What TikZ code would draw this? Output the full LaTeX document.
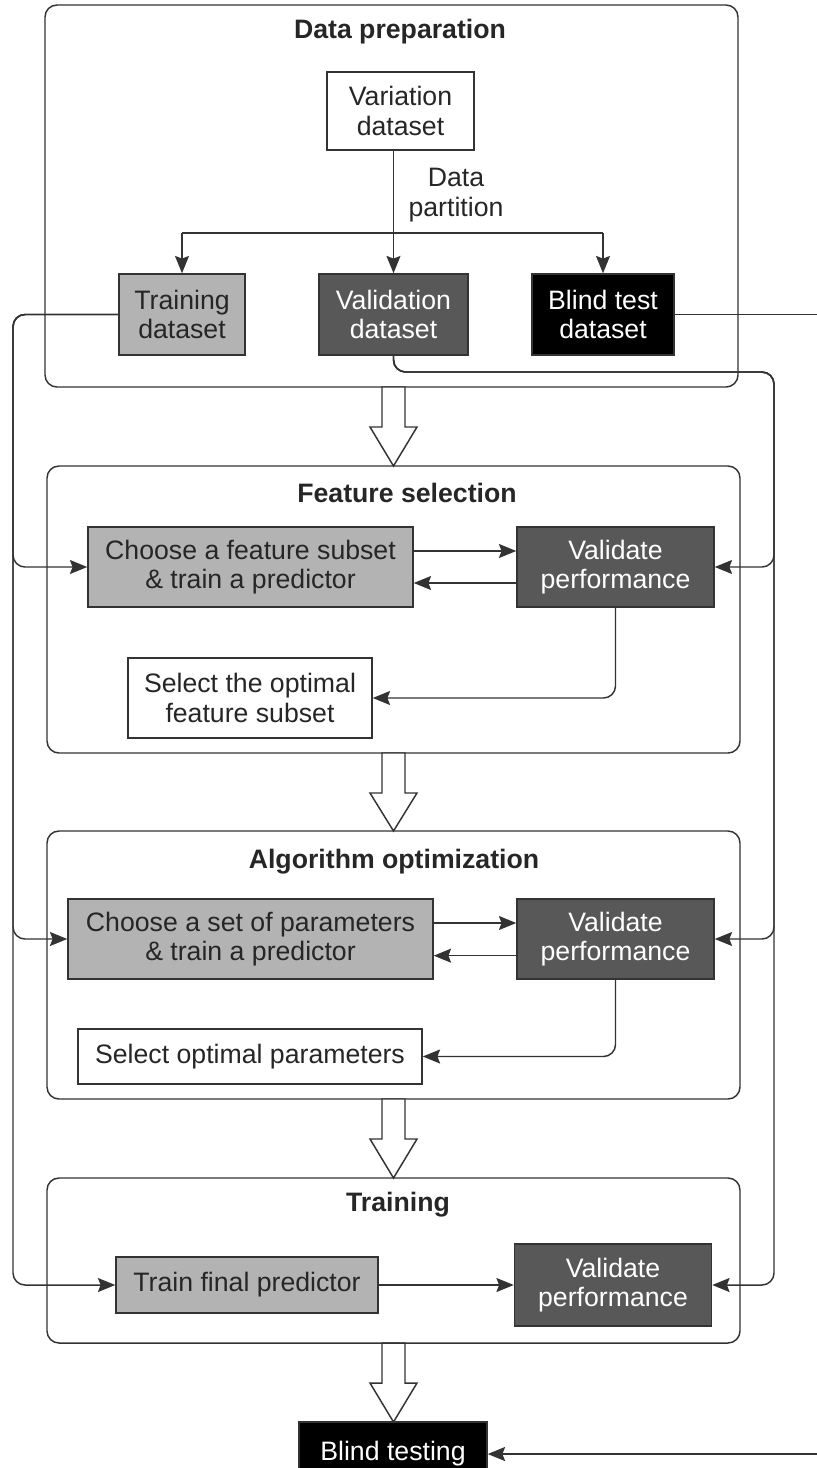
\documentclass[tikz,border=0pt]{standalone}
\usepackage{fontspec}
\setmainfont{Liberation Sans}
\usetikzlibrary{arrows.meta}
\definecolor{lg}{HTML}{B3B3B3}
\definecolor{dg}{HTML}{585858}
\definecolor{ln}{HTML}{333333}
\definecolor{tx}{HTML}{262626}
\begin{document}
\begin{tikzpicture}[x=0.75pt,y=-0.75pt,
  sz/.style 2 args={minimum width=#1*0.75pt, minimum height=#2*0.75pt},
  box/.style={draw=ln, line width=1.1pt, inner sep=0pt, align=center,
    font=\fontsize{20}{22}\selectfont, text=tx},
  lightbox/.style={box, fill=lg},
  darkbox/.style={box, fill=dg, text=white},
  blackbox/.style={box, fill=black, text=white},
  whitebox/.style={box, fill=white},
  panel/.style={draw=ln, line width=1.1pt, rounded corners=9pt, inner sep=0pt},
  ttl/.style={font=\bfseries\fontsize{20}{22}\selectfont, text=tx},
  lbl/.style={font=\fontsize{20}{22}\selectfont, text=tx, align=center},
  conn/.style={draw=ln, line width=1.1pt, rounded corners=9pt,
    -{Stealth[length=13pt,width=10.5pt,inset=2pt]}},
  plain/.style={draw=ln, line width=1.1pt, rounded corners=9pt},
  bigarrow/.style={draw=ln, line width=1.1pt, fill=white, line join=miter}
]
\useasboundingbox (0,0) rectangle (817,1468);
\clip (0,0) rectangle (817,1468);

% panels
\node[panel, sz={693}{382}] (pdata) at (391.5,196) {};
\node[panel, sz={693}{287}] (pfeat) at (393.5,609.5) {};
\node[panel, sz={693}{268}] (palgo) at (393.5,965) {};
\node[panel, sz={693}{165}] (ptrain) at (393.5,1260.5) {};

% titles
\node[ttl] (tdata) at (400,32) {Data preparation};
\node[ttl] (tfeat) at (407,493) {Feature selection};
\node[ttl] (talgo) at (394,862) {Algorithm optimization};
\node[ttl] (ttrain) at (398,1205) {Training};

% data preparation
\node[whitebox, sz={147}{78}] (var) at (400.5,111) {Variation\\dataset};
\node[lightbox, sz={126}{81}] (train) at (182,314.5) {Training\\dataset};
\node[darkbox, sz={149}{81}] (valid) at (393.5,314.5) {Validation\\dataset};
\node[blackbox, sz={142}{81}] (blind) at (603,314.5) {Blind test\\dataset};
\node[lbl] (part) at (456,195) {Data\\partition};

% feature selection
\node[lightbox, sz={325}{80}] (ch1) at (250.5,567) {Choose a feature subset\\\& train a predictor};
\node[darkbox, sz={197}{80}] (va1) at (615.5,567) {Validate\\performance};
\node[whitebox, sz={244}{80}] (se1) at (250,698) {Select the optimal\\feature subset};

% algorithm optimization
\node[lightbox, sz={365}{80}] (ch2) at (250.5,939) {Choose a set of parameters\\\& train a predictor};
\node[darkbox, sz={197}{80}] (va2) at (615.5,939) {Validate\\performance};
\node[whitebox, sz={344}{55}] (se2) at (250,1056.5) {Select optimal parameters};

% training
\node[lightbox, sz={262}{56}] (tr3) at (247,1285) {Train final predictor};
\node[darkbox, sz={197}{82}] (va3) at (613,1285) {Validate\\performance};

% blind testing
\node[blackbox, sz={188}{64}] (bt) at (393,1454) {Blind testing};

% helper coordinates
\coordinate (split) at (394,233);
\coordinate (L) at (13,0);
\coordinate (R) at (774,0);
\coordinate (vy) at (0,372);
\coordinate (E) at (830,0);

% data partition connectors
\draw[conn] (valid.north |- var.south) -- (valid.north);
\draw[plain, rounded corners=0pt] (train.north |- split) -- (blind.north |- split);
\draw[conn, rounded corners=0pt] (train.north |- split) -- (train.north);
\draw[conn, rounded corners=0pt] (blind.north |- split) -- (blind.north);

% left bus from training dataset
\draw[conn] (train.west) -- (train.west -| L) -- (L |- ch1.west) -- (ch1.west);
\draw[conn] (train.west) -- (train.west -| L) -- (L |- ch2.west) -- (ch2.west);
\draw[conn] (train.west) -- (train.west -| L) -- (L |- tr3.west) -- (tr3.west);

% right bus from validation dataset
\draw[conn] (valid.south) -- (valid.south |- vy) -- (R |- vy) -- (R |- va1.east) -- (va1.east);
\draw[conn] (valid.south) -- (valid.south |- vy) -- (R |- vy) -- (R |- va2.east) -- (va2.east);
\draw[conn] (valid.south) -- (valid.south |- vy) -- (R |- vy) -- (R |- va3.east) -- (va3.east);

% blind test dataset line
\draw[plain] (blind.east) -- (blind.east -| E);
\draw[conn] (E |- bt.east) -- (bt.east);

% feature selection connectors
\draw[conn] ([yshift=12pt]ch1.east) -- ([yshift=12pt]ch1.east -| va1.west);
\draw[conn] ([yshift=-12pt]va1.west) -- ([yshift=-12pt]va1.west -| ch1.east);
\draw[conn] (va1.south) -- (va1.south |- se1.east) -- (se1.east);

% algorithm optimization connectors
\draw[conn] ([yshift=12pt]ch2.east) -- ([yshift=12pt]ch2.east -| va2.west);
\draw[conn] ([yshift=-12.5pt]va2.west) -- ([yshift=-12.5pt]va2.west -| ch2.east);
\draw[conn] (va2.south) -- (va2.south |- se2.east) -- (se2.east);

% training connector
\draw[conn] (tr3.east) -- (va3.west);

% big block arrows
\foreach \ys/\yh/\yt in {387/427/466, 753/793/831, 1099/1139/1178, 1343/1383/1422}{
  \draw[bigarrow] (382,\ys) -- (405,\ys) -- (405,\yh) -- (417,\yh) -- (393.5,\yt)
    -- (370,\yh) -- (382,\yh) -- cycle;
}
\end{tikzpicture}
\end{document}
